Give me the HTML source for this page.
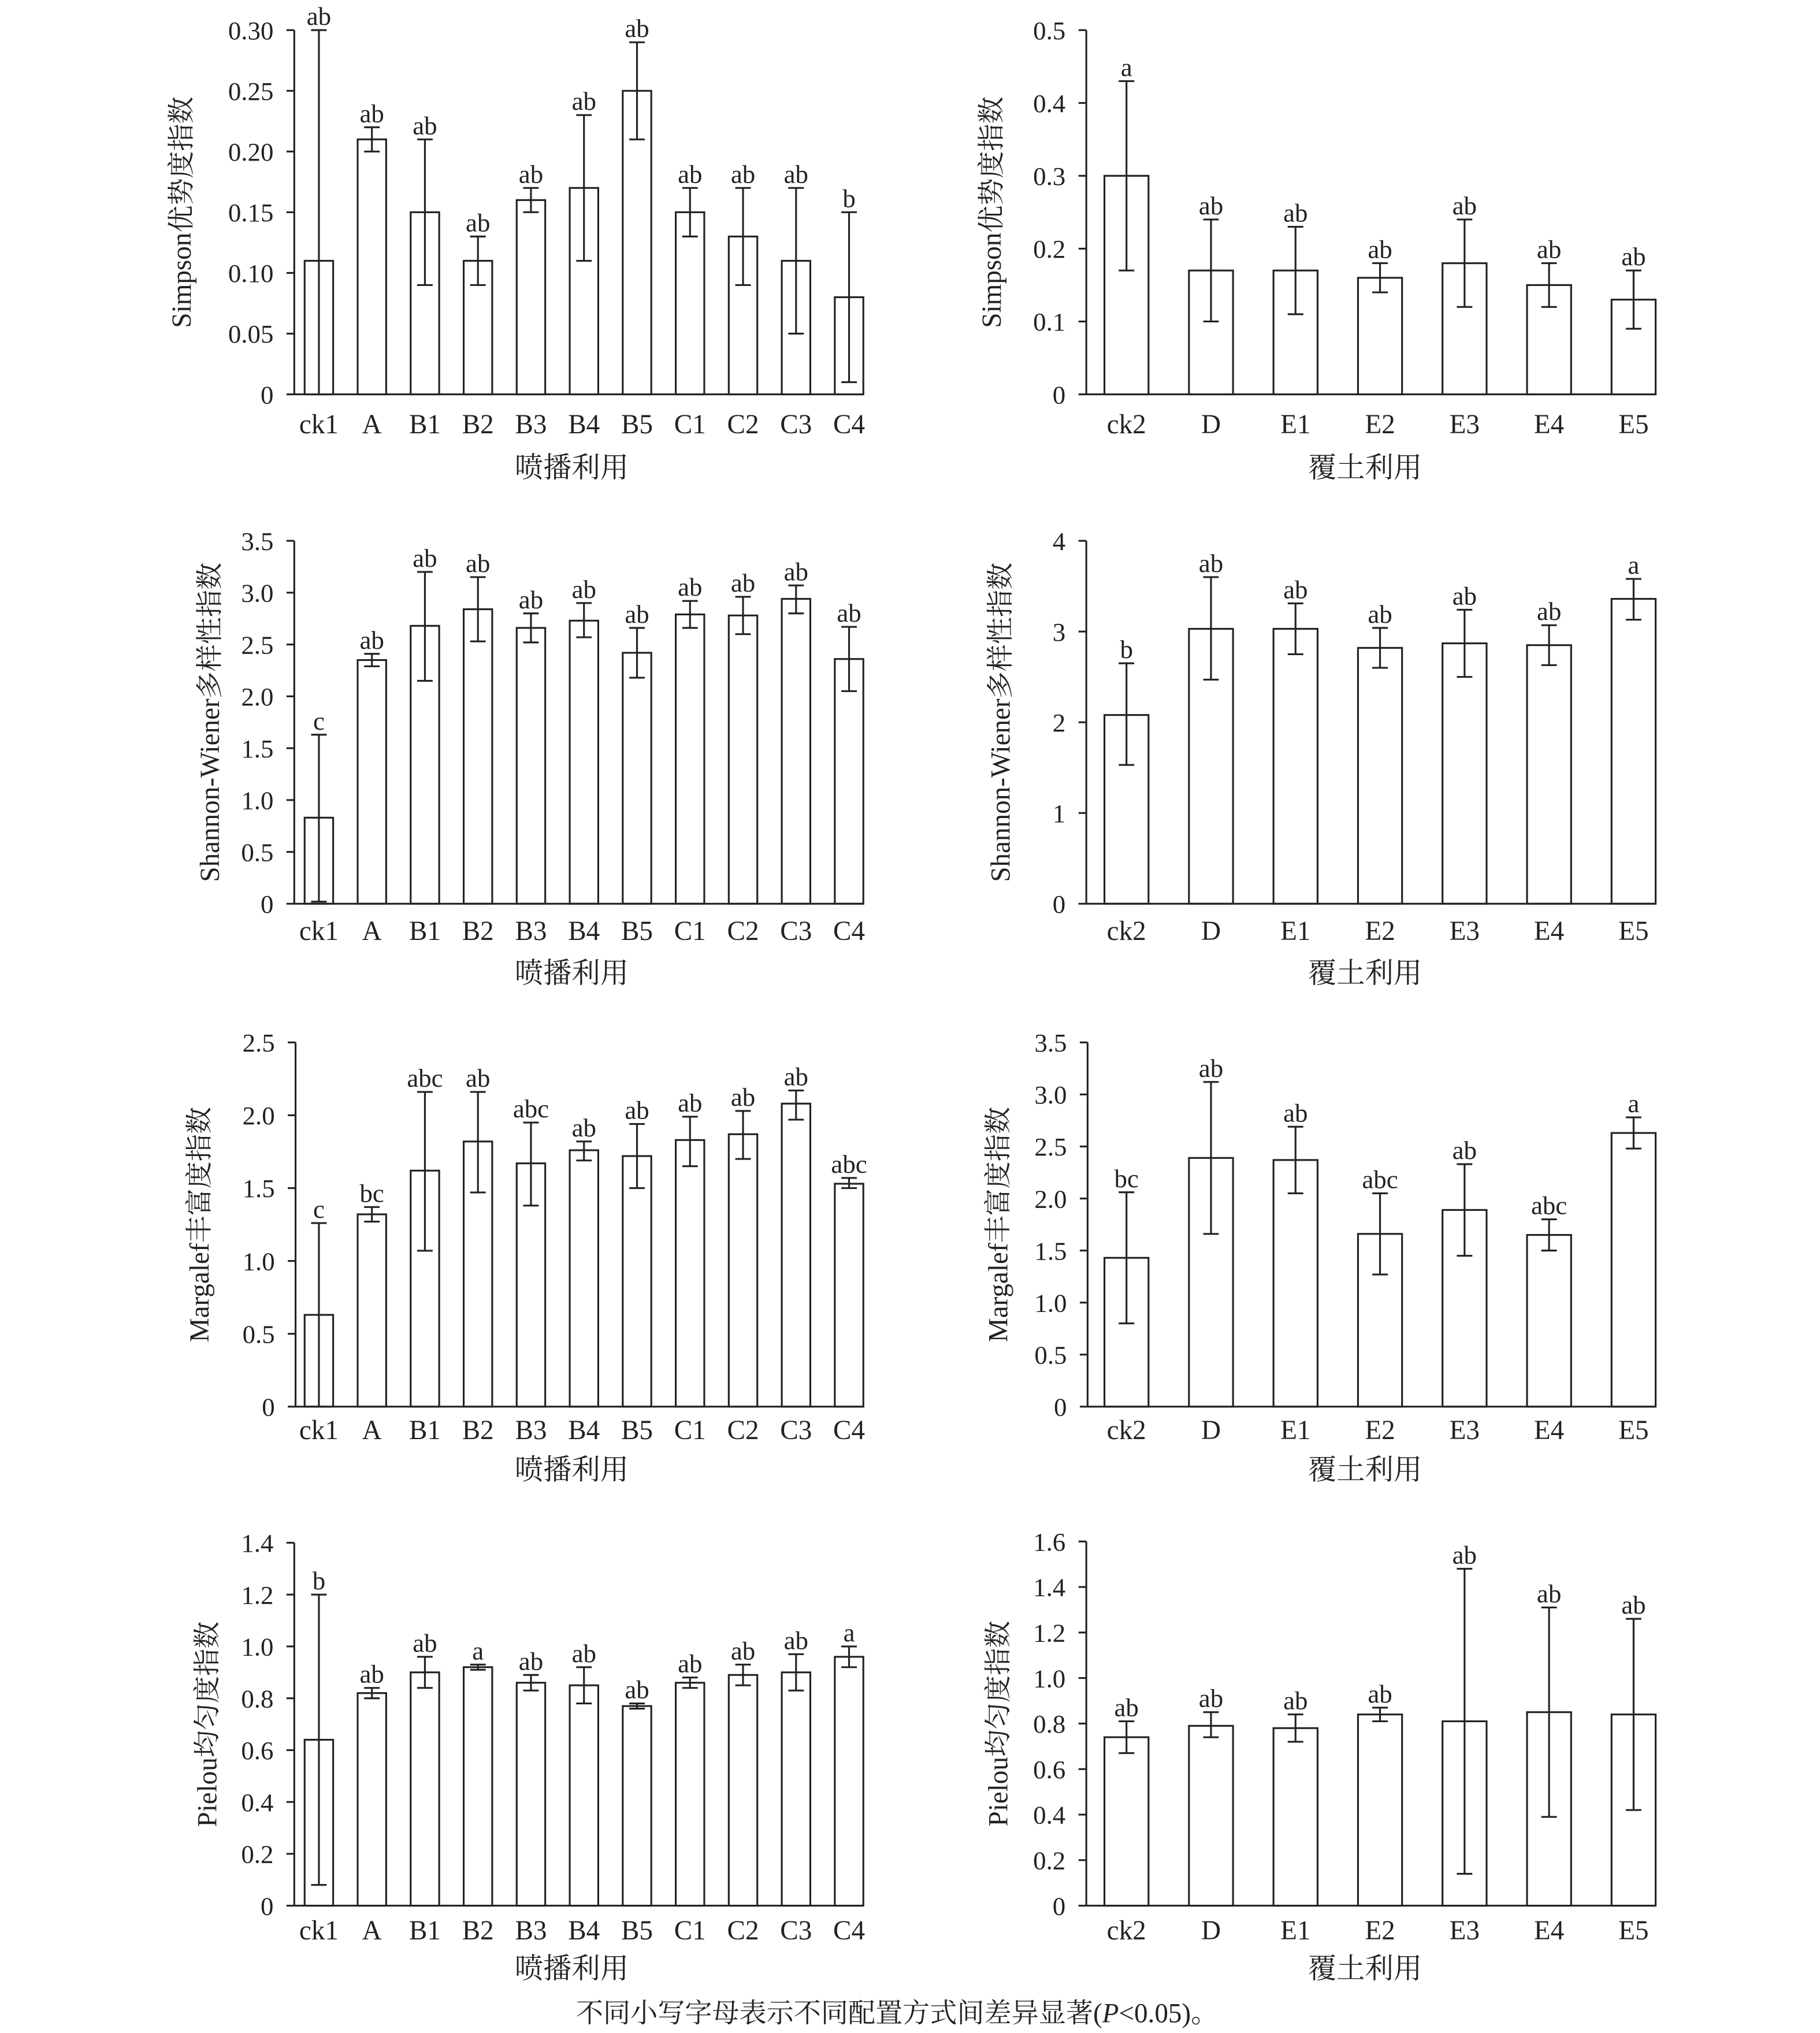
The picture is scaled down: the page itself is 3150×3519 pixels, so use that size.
<!DOCTYPE html>
<html><head><meta charset="utf-8"><style>
html,body{margin:0;padding:0;background:#fff}
svg{display:block}
text{font-family:"Liberation Serif","Noto Serif CJK SC",serif;fill:#222}
</style></head><body>
<svg id="s" width="3150" height="3519" viewBox="0 0 1404 1568" xmlns="http://www.w3.org/2000/svg"></svg>
<script>
const NS="http://www.w3.org/2000/svg",S=document.getElementById('s');
function el(t,a,txt){const e=document.createElementNS(NS,t);for(const k in a)e.setAttribute(k,a[k]);if(txt!=null)e.textContent=txt;S.appendChild(e);return e;}
const L=["ck1","A","B1","B2","B3","B4","B5","C1","C2","C3","C4"],R=["ck2","D","E1","E2","E3","E4","E5"];
const panels=[
{x0:227,x1:666,yt:23,yb:304,max:0.30,ticks:[0,0.05,0.10,0.15,0.20,0.25,0.30],fmt:v=>v==0?"0":v.toFixed(2),cats:L,bw:22,yl:"Simpson优势度指数",ylx:140,xl:"喷播利用",xly:360,xty:327,
d:[[0.11,0,0.30,"ab"],[0.21,0.20,0.22,"ab"],[0.15,0.09,0.21,"ab"],[0.11,0.09,0.13,"ab"],[0.16,0.15,0.17,"ab"],[0.17,0.11,0.23,"ab"],[0.25,0.21,0.29,"ab"],[0.15,0.13,0.17,"ab"],[0.13,0.09,0.17,"ab"],[0.11,0.05,0.17,"ab"],[0.08,0.01,0.15,"b"]]},
{x0:838,x1:1277,yt:23,yb:304,max:0.5,ticks:[0,0.1,0.2,0.3,0.4,0.5],fmt:v=>v==0?"0":v.toFixed(1),cats:R,bw:34,yl:"Simpson优势度指数",ylx:765,xl:"覆土利用",xly:360,xty:327,
d:[[0.30,0.17,0.43,"a"],[0.17,0.10,0.24,"ab"],[0.17,0.11,0.23,"ab"],[0.16,0.14,0.18,"ab"],[0.18,0.12,0.24,"ab"],[0.15,0.12,0.18,"ab"],[0.13,0.09,0.17,"ab"]]},
{x0:227,x1:666,yt:417,yb:697,max:3.5,ticks:[0,0.5,1,1.5,2,2.5,3,3.5],fmt:v=>v==0?"0":v.toFixed(1),cats:L,bw:22,yl:"Shannon-Wiener多样性指数",ylx:162,xl:"喷播利用",xly:750,xty:718,
d:[[0.83,0.02,1.63,"c"],[2.35,2.29,2.41,"ab"],[2.68,2.15,3.20,"ab"],[2.84,2.53,3.15,"ab"],[2.66,2.52,2.80,"ab"],[2.73,2.57,2.90,"ab"],[2.42,2.18,2.66,"ab"],[2.79,2.66,2.92,"ab"],[2.78,2.60,2.96,"ab"],[2.94,2.80,3.07,"ab"],[2.36,2.05,2.67,"ab"]]},
{x0:838,x1:1277,yt:417,yb:697,max:4,ticks:[0,1,2,3,4],fmt:v=>""+v,cats:R,bw:34,yl:"Shannon-Wiener多样性指数",ylx:772,xl:"覆土利用",xly:750,xty:718,
d:[[2.08,1.53,2.65,"b"],[3.03,2.47,3.60,"ab"],[3.03,2.75,3.31,"ab"],[2.82,2.60,3.04,"ab"],[2.87,2.50,3.24,"ab"],[2.85,2.63,3.07,"ab"],[3.36,3.13,3.58,"a"]]},
{x0:228,x1:666,yt:804,yb:1085,max:2.5,ticks:[0,0.5,1,1.5,2,2.5],fmt:v=>v==0?"0":v.toFixed(1),cats:L,bw:22,yl:"Margalef丰富度指数",ylx:154,xl:"喷播利用",xly:1133,xty:1103,
d:[[0.63,0,1.26,"c"],[1.32,1.27,1.37,"bc"],[1.62,1.07,2.16,"abc"],[1.82,1.47,2.16,"ab"],[1.67,1.38,1.95,"abc"],[1.76,1.69,1.82,"ab"],[1.72,1.50,1.94,"ab"],[1.83,1.65,1.99,"ab"],[1.87,1.70,2.03,"ab"],[2.08,1.97,2.17,"ab"],[1.53,1.50,1.57,"abc"]]},
{x0:839,x1:1277,yt:804,yb:1085,max:3.5,ticks:[0,0.5,1,1.5,2,2.5,3,3.5],fmt:v=>v==0?"0":v.toFixed(1),cats:R,bw:34,yl:"Margalef丰富度指数",ylx:770,xl:"覆土利用",xly:1133,xty:1103,
d:[[1.43,0.80,2.06,"bc"],[2.39,1.66,3.12,"ab"],[2.37,2.05,2.69,"ab"],[1.66,1.27,2.05,"abc"],[1.89,1.45,2.33,"ab"],[1.65,1.50,1.80,"abc"],[2.63,2.48,2.78,"a"]]},
{x0:227,x1:666,yt:1190,yb:1470,max:1.4,ticks:[0,0.2,0.4,0.6,0.8,1,1.2,1.4],fmt:v=>v==0?"0":v.toFixed(1),cats:L,bw:22,yl:"Pielou均匀度指数",ylx:160,xl:"喷播利用",xly:1518,xty:1489,
d:[[0.64,0.08,1.20,"b"],[0.82,0.80,0.84,"ab"],[0.90,0.84,0.96,"ab"],[0.92,0.91,0.93,"a"],[0.86,0.83,0.89,"ab"],[0.85,0.78,0.92,"ab"],[0.77,0.76,0.78,"ab"],[0.86,0.84,0.88,"ab"],[0.89,0.85,0.93,"ab"],[0.90,0.83,0.97,"ab"],[0.96,0.92,1.00,"a"]]},
{x0:838,x1:1277,yt:1189,yb:1470,max:1.6,ticks:[0,0.2,0.4,0.6,0.8,1,1.2,1.4,1.6],fmt:v=>v==0?"0":v.toFixed(1),cats:R,bw:34,yl:"Pielou均匀度指数",ylx:770,xl:"覆土利用",xly:1518,xty:1489,
d:[[0.74,0.67,0.81,"ab"],[0.79,0.74,0.85,"ab"],[0.78,0.72,0.84,"ab"],[0.84,0.81,0.87,"ab"],[0.81,0.14,1.48,"ab"],[0.85,0.39,1.31,"ab"],[0.84,0.42,1.26,"ab"]]}
];
const st={stroke:"#222","stroke-width":1.4,fill:"none"};
for(const p of panels){
 const Y=v=>p.yb-(v/p.max)*(p.yb-p.yt);
 const left=p.cats.length==11;
 const c0=left?246:869, dx=left?40.9:65.2;
 el("line",Object.assign({x1:p.x0,y1:p.yt,x2:p.x0,y2:p.yb},st));
 el("line",Object.assign({x1:p.x0,y1:p.yb,x2:p.x1,y2:p.yb},st));
 for(const t of p.ticks){const y=Y(t);el("line",Object.assign({x1:p.x0-6,y1:y,x2:p.x0,y2:y},st));
  el("text",{x:p.x0-16,y:y+7,"font-size":20,"text-anchor":"end"},p.fmt(t));}
 p.cats.forEach((c,i)=>{const cx=c0+dx*i,[v,lo,hi,lab]=p.d[i];
  el("rect",Object.assign({x:cx-p.bw/2,y:Y(v),width:p.bw,height:p.yb-Y(v)},st));
  el("line",Object.assign({x1:cx,y1:Y(lo),x2:cx,y2:Y(hi)},st));
  el("line",Object.assign({x1:cx-6,y1:Y(hi),x2:cx+6,y2:Y(hi)},st));
  el("line",Object.assign({x1:cx-6,y1:Y(lo),x2:cx+6,y2:Y(lo)},st));
  el("text",{x:cx,y:Y(hi)-4,"font-size":20,"text-anchor":"middle"},lab);
  el("text",{x:cx,y:p.xty+7,"font-size":21,"text-anchor":"middle"},c);
 });
 el("text",{x:left?441:1053,y:p.xly+8,"font-size":22,"text-anchor":"middle"},p.xl);
 const cy=(p.yt+p.yb)/2;
 el("text",{x:p.ylx,y:cy,"font-size":21,"text-anchor":"middle",transform:`rotate(-90 ${p.ylx} ${cy})`,dy:7},p.yl);
}
const f=el("text",{x:692,y:1560,"font-size":21,"text-anchor":"middle"});
f.innerHTML='不同小写字母表示不同配置方式间差异显著(<tspan font-style="italic">P</tspan>&lt;0.05)。';
</script>
</body></html>
